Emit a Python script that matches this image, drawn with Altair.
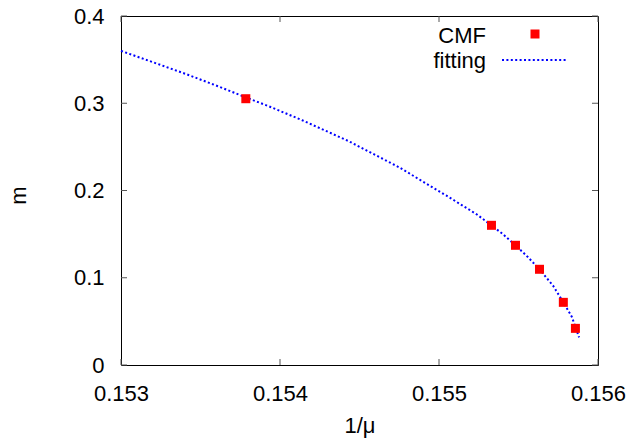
import altair as alt
import pandas as pd

# CMF data points
cmf_x = [0.153785, 0.155330, 0.155481, 0.155632, 0.155782, 0.155858]
cmf_y = [0.3052, 0.1601, 0.1372, 0.1097, 0.0718, 0.0420]

# fitting curve
fit_x = [0.153000, 0.153203, 0.153413, 0.153623, 0.153774, 0.153937, 0.154140,
         0.154430, 0.154751, 0.155045, 0.155237, 0.155330, 0.155403, 0.155481,
         0.155557, 0.155632, 0.155719, 0.155782, 0.155835, 0.155881]
fit_y = [0.3600, 0.3469, 0.3332, 0.3186, 0.3075, 0.2960, 0.2805,
         0.2567, 0.2264, 0.1943, 0.1727, 0.1601, 0.1498, 0.1372,
         0.1241, 0.1097, 0.0905, 0.0718, 0.0554, 0.0317]

x_ticks = [0.153, 0.154, 0.155, 0.156]
y_ticks = [0.0, 0.1, 0.2, 0.3, 0.4]
legend_labels = ["CMF", "fitting"]

W, H = 477, 349
FONT = "Liberation Sans"
FS = 22

cmf_df = pd.DataFrame({"x": cmf_x, "y": cmf_y})
fit_df = pd.DataFrame({"x": fit_x, "y": fit_y})
xt_df = pd.DataFrame({"x": x_ticks})
yt_df = pd.DataFrame({"y": y_ticks})

xscale = alt.Scale(domain=[0.153, 0.156], nice=False, zero=False)
yscale = alt.Scale(domain=[0, 0.4], nice=False, zero=False)

xaxis = alt.Axis(values=x_ticks, format=".3f", title="1/\u03bc", ticks=False,
                 domain=False, grid=False, labelFontSize=FS, labelFont=FONT,
                 labelPadding=18, labelColor="black", titleFont=FONT,
                 titleFontSize=FS, titleFontWeight="normal", titleColor="black",
                 titleBaseline="alphabetic", titleY=67, labelFlush=False)
yaxis = alt.Axis(values=y_ticks, format=".1~f", title="m", ticks=False,
                 domain=False, grid=False, labelFontSize=FS, labelFont=FONT,
                 labelPadding=17, labelColor="black", titleFont=FONT,
                 titleFontSize=FS, titleFontWeight="normal", titleColor="black",
                 titleAngle=-90, titleBaseline="alphabetic", titleAlign="center",
                 titleX=-96, titleY=179, labelFlush=False)

fit_line = alt.Chart(fit_df).mark_line(
    color="#0000ff", strokeWidth=2, strokeDash=[2, 2.4], strokeCap="butt"
).encode(
    x=alt.X("x:Q", scale=xscale, axis=xaxis),
    y=alt.Y("y:Q", scale=yscale, axis=yaxis),
)

points = alt.Chart(cmf_df).mark_square(
    color="#ff0000", size=81, opacity=1, filled=True
).encode(x=alt.X("x:Q", scale=xscale), y=alt.Y("y:Q", scale=yscale))

tick_color = "#555555"
bottom_ticks = alt.Chart(xt_df).mark_rule(color=tick_color, strokeWidth=1).encode(
    x=alt.X("x:Q", scale=xscale), y=alt.value(H), y2=alt.value(H - 6))
top_ticks = alt.Chart(xt_df).mark_rule(color=tick_color, strokeWidth=1).encode(
    x=alt.X("x:Q", scale=xscale), y=alt.value(0), y2=alt.value(6))
left_ticks = alt.Chart(yt_df).mark_rule(color=tick_color, strokeWidth=1).encode(
    y=alt.Y("y:Q", scale=yscale), x=alt.value(0), x2=alt.value(6))
right_ticks = alt.Chart(yt_df).mark_rule(color=tick_color, strokeWidth=1).encode(
    y=alt.Y("y:Q", scale=yscale), x=alt.value(W), x2=alt.value(W - 6))

# legend
leg_text = []
for lab, ypos in zip(legend_labels, [27, 52]):
    leg_text.append(
        alt.Chart(pd.DataFrame({"label": [lab]})).mark_text(
            align="right", baseline="alphabetic", font=FONT, fontSize=FS,
            color="black"
        ).encode(text="label:N", x=alt.value(365), y=alt.value(ypos))
    )
leg_marker = alt.Chart(pd.DataFrame({"label": [legend_labels[0]]})).mark_square(
    color="#ff0000", size=81, opacity=1, filled=True
).encode(x=alt.value(414), y=alt.value(18))
leg_line = alt.Chart(pd.DataFrame({"label": [legend_labels[1]]})).mark_rule(
    color="#0000ff", strokeWidth=2, strokeDash=[2, 2.4], strokeCap="butt"
).encode(x=alt.value(381), x2=alt.value(446), y=alt.value(44))

chart = alt.layer(
    fit_line, points, bottom_ticks, top_ticks, left_ticks, right_ticks,
    *leg_text, leg_marker, leg_line
).properties(
    width=W, height=H,
    autosize=alt.AutoSizeParams(type="none"),
    padding={"left": 113, "top": 8, "right": 30, "bottom": 76},
    background="white",
).configure_view(stroke="black", strokeWidth=1)

chart.save("out.html", embed_options={"renderer": "svg", "actions": False})
